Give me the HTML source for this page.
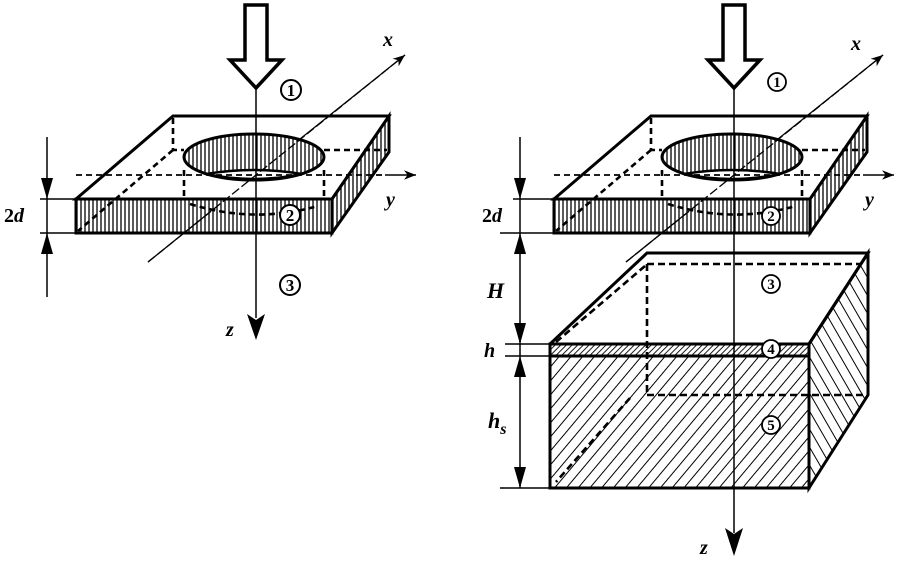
<!DOCTYPE html>
<html><head><meta charset="utf-8"><style>
html,body{margin:0;padding:0;background:#fff;}
svg{display:block;}
text{font-family:"Liberation Serif",serif;font-weight:bold;font-style:italic;}
text.n{font-style:normal;}
</style></head><body>
<svg width="900" height="562" viewBox="0 0 900 562" xmlns="http://www.w3.org/2000/svg">
<defs>
<pattern id="vh" width="4" height="10" patternUnits="userSpaceOnUse"><line x1="1" y1="0" x2="1" y2="10" stroke="#000" stroke-width="1.3"/></pattern>
<pattern id="d45" width="9" height="9" patternUnits="userSpaceOnUse" patternTransform="rotate(40)"><line x1="0" y1="0" x2="0" y2="9" stroke="#000" stroke-width="2"/></pattern>
<pattern id="d135" width="9" height="9" patternUnits="userSpaceOnUse" patternTransform="rotate(-30)"><line x1="0" y1="0" x2="0" y2="9" stroke="#000" stroke-width="2"/></pattern>
<pattern id="dense" width="4" height="4" patternUnits="userSpaceOnUse" patternTransform="rotate(45)"><line x1="0" y1="0" x2="0" y2="4" stroke="#000" stroke-width="1.8"/></pattern>
<marker id="ah" viewBox="0 0 10 10" refX="10" refY="5" markerWidth="12" markerHeight="12" markerUnits="userSpaceOnUse" orient="auto"><path d="M0,1 L10,5 L0,9 L3,5 Z" fill="#000"/></marker>
<g id="plate">
  <path d="M245,5 H267 V60 H282 L256,88 L230,60 H245 Z" fill="#fff" stroke="#000" stroke-width="3.5"/>
  <rect x="76" y="199" width="256" height="34" fill="url(#vh)" stroke="#000" stroke-width="3"/>
  <path d="M332,199 L389,116 L389,152 L332,233 Z" fill="url(#vh)" stroke="#000" stroke-width="3"/>
  <path d="M76,199 L173,116 L389,116 L332,199 Z" fill="#fff" stroke="#000" stroke-width="3"/>
  <ellipse cx="254" cy="157" rx="70" ry="23" fill="url(#vh)" stroke="#000" stroke-width="3"/>
  <path d="M206,174 Q254,166 302,174 Q254,184 206,174 Z" fill="#fff" stroke="#000" stroke-width="2.5"/>
  <g stroke="#000" stroke-width="2.6" stroke-dasharray="6,4" fill="none">
    <path d="M173,118 V150 H184"/>
    <line x1="324" y1="150" x2="387" y2="150"/>
    <line x1="173" y1="150" x2="78" y2="231"/>
    <line x1="184" y1="170" x2="184" y2="199"/>
    <line x1="324" y1="170" x2="324" y2="199"/>
    <path d="M190,204 Q254,224 318,206"/>
    <line x1="76" y1="175" x2="385" y2="175" stroke-width="1.8"/>
  </g>
  <line x1="385" y1="175" x2="416" y2="175" stroke="#000" stroke-width="1.5" marker-end="url(#ah)"/>
  <line x1="148" y1="262" x2="405" y2="55" stroke="#000" stroke-width="1.3" stroke-dasharray="9,3" marker-end="url(#ah)"/>
  <line x1="148" y1="262" x2="210" y2="212" stroke="#000" stroke-width="1.3"/>
  <line x1="300" y1="139" x2="405" y2="55" stroke="#000" stroke-width="1.3"/>
</g>
</defs>

<use href="#plate"/>
<line x1="256" y1="88" x2="256" y2="318" stroke="#000" stroke-width="1.5"/>
<path d="M247,314 L256,340 L265,314 L256,320 Z" fill="#000"/>
<text x="226" y="336" font-size="20">z</text>
<text x="383" y="46" font-size="20">x</text>
<text x="386" y="206" font-size="20">y</text>
<g stroke="#000" stroke-width="2" fill="#fff">
<circle cx="291" cy="90" r="10"/><circle cx="290" cy="215" r="10"/><circle cx="290" cy="285" r="10"/>
</g>
<g font-size="17" text-anchor="middle">
<text class="n" x="291" y="96">1</text><text class="n" x="290" y="221">2</text><text class="n" x="290" y="291">3</text>
</g>
<g stroke="#000" stroke-width="1.5">
<line x1="47" y1="137" x2="47" y2="297"/>
<line x1="40" y1="199" x2="76" y2="199"/>
<line x1="40" y1="233" x2="76" y2="233"/>
</g>
<path d="M41,178 L47,199 L53,178 Z M41,254 L47,233 L53,254 Z" fill="#000"/>
<text class="n" x="4" y="222" font-size="20">2<tspan font-style="italic">d</tspan></text>

<use href="#plate" x="478"/>
<path d="M809,344 L868,253 L868,395 L809,488 Z" fill="url(#d135)" stroke="#000" stroke-width="3"/>
<rect x="550" y="356" width="259" height="132" fill="url(#d45)" stroke="#000" stroke-width="3"/>
<rect x="550" y="344" width="259" height="12" fill="url(#dense)" stroke="#000" stroke-width="3"/>
<path d="M550,344 L647,253 L868,253 L809,344" fill="none" stroke="#000" stroke-width="3"/>
<g stroke="#000" stroke-width="2.6" stroke-dasharray="7,4" fill="none">
<line x1="647" y1="264" x2="860" y2="264"/>
<line x1="647" y1="264" x2="647" y2="395"/>
<line x1="647" y1="395" x2="868" y2="395"/>
<line x1="645" y1="266" x2="556" y2="342"/>
<line x1="630" y1="398" x2="556" y2="482"/>
</g>
<line x1="734" y1="88" x2="734" y2="533" stroke="#000" stroke-width="1.5"/>
<path d="M725,528 L734,556 L743,528 L734,534 Z" fill="#000"/>
<text x="700" y="554" font-size="20">z</text>
<text x="851" y="50" font-size="20">x</text>
<text x="865" y="206" font-size="20">y</text>
<g stroke="#000" stroke-width="1.8" fill="#fff">
<circle cx="777" cy="82" r="9"/><circle cx="771" cy="216" r="9"/><circle cx="771" cy="284" r="9"/><circle cx="771" cy="349" r="9"/><circle cx="771" cy="425" r="9"/>
</g>
<g font-size="15" text-anchor="middle">
<text class="n" x="777" y="87">1</text><text class="n" x="771" y="221">2</text><text class="n" x="771" y="289">3</text><text class="n" x="771" y="354">4</text><text class="n" x="771" y="430">5</text>
</g>
<g stroke="#000" stroke-width="1.5">
<line x1="520" y1="137" x2="520" y2="488"/>
<line x1="513" y1="199" x2="554" y2="199"/>
<line x1="500" y1="233" x2="554" y2="233"/>
<line x1="505" y1="344" x2="550" y2="344"/>
<line x1="505" y1="356" x2="550" y2="356"/>
<line x1="500" y1="488" x2="550" y2="488"/>
</g>
<path d="M514,178 L520,199 L526,178 Z M514,254 L520,233 L526,254 Z M514,323 L520,344 L526,323 Z M514,377 L520,356 L526,377 Z M514,467 L520,488 L526,467 Z" fill="#000"/>
<text class="n" x="482" y="222" font-size="20">2<tspan font-style="italic">d</tspan></text>
<text x="487" y="298" font-size="22">H</text>
<text x="484" y="357" font-size="20">h</text>
<text x="488" y="428" font-size="22">h<tspan font-size="16" dy="6">s</tspan></text>
</svg>
</body></html>
